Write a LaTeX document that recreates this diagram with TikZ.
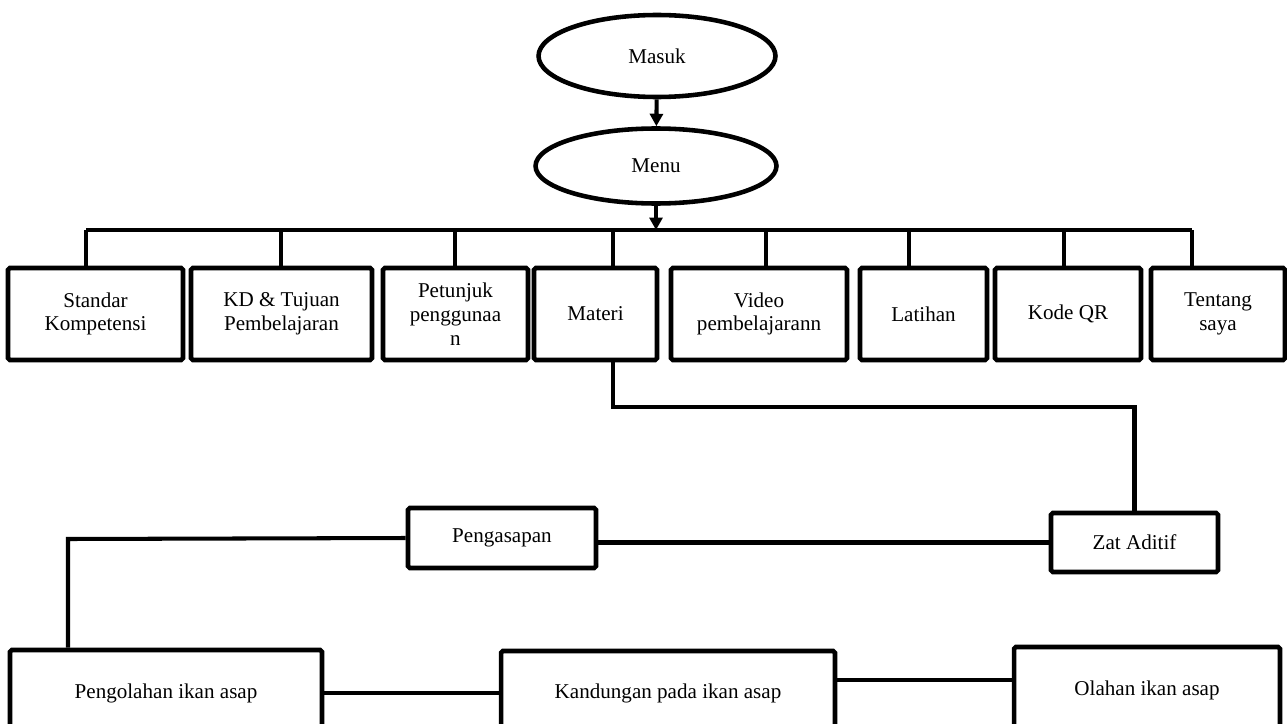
\documentclass[tikz,border=0pt]{standalone}
\usepackage{fontspec}
\setmainfont{Liberation Serif}
\usetikzlibrary{shapes.geometric,arrows.meta}

\begin{document}
\begin{tikzpicture}[x=0.02cm,y=-0.02cm,
  >={Triangle[length=0.25cm,width=0.26cm]},
  font=\fontsize{12}{13.5}\selectfont,
  ln/.style={line width=2.3pt},
  ov/.style={draw,ellipse,line width=2.6pt,inner sep=0pt},
  box/.style={draw,line width=2.6pt,rounded corners=1pt,inner sep=0pt,align=center,minimum height=1.84cm}]
  \useasboundingbox (0,0) rectangle (1287,723);
  \clip (0,0) rectangle (1287,723);

  \node[ov,minimum width=4.74cm,minimum height=1.64cm] (masuk) at (657,56) {Masuk};
  \node[ov,minimum width=4.82cm,minimum height=1.5cm] (menu) at (656,166) {Menu};
  \draw[ln,->] (masuk) -- (menu);

  % menu row
  \node[box,minimum width=3.5cm] (sk) at (95.5,314) {Standar\\Kompetensi};
  \node[box,minimum width=3.62cm] (kd) at (281.5,314) {KD \& Tujuan\\Pembelajaran};
  \node[box,minimum width=2.9cm] (pp) at (455.5,314) {Petunjuk\\penggunaa\\n};
  \node[box,minimum width=2.46cm] (mat) at (595.5,314) {Materi};
  \node[box,minimum width=3.52cm] (vid) at (759,314) {Video\\pembelajarann};
  \node[box,minimum width=2.54cm] (lat) at (923.5,314) {Latihan};
  \node[box,minimum width=2.92cm] (qr) at (1068,314) {Kode QR};
  \node[box,minimum width=2.68cm] (ttg) at (1218,314) {Tentang\\saya};

  \coordinate (busL) at (86,230);
  \coordinate (busR) at (1192,230);
  \draw[ln] (busL) -- (busR);
  \draw[ln,->] (menu) -- (menu |- busL);
  \foreach \x/\n in {86/sk,281/kd,455/pp,613/mat,766/vid,909/lat,1064/qr,1192/ttg}{
    \coordinate (b\n) at (\x,230);
    \draw[ln] (b\n) -- (b\n |- \n.north);
  }

  % materi
  \node[box,minimum width=3.34cm,minimum height=1.18cm] (zat) at (1134.5,542.5) {Zat Aditif};
  \node[box,minimum width=3.76cm,minimum height=1.2cm] (psp) at (502,538) {Pengasapan};
  \node[box,minimum width=6.24cm,minimum height=1.72cm] (pio) at (166,693) {Pengolahan ikan asap};
  \node[box,minimum width=6.68cm,minimum height=1.68cm] (kpi) at (668,693) {Kandungan pada ikan asap};
  \node[box,minimum width=5.32cm,minimum height=1.72cm] (olh) at (1147,690) {Olahan ikan asap};

  \coordinate (m1) at (613,407);
  \draw[ln] (m1 |- mat.south) -- (m1) -| (zat.north);
  \draw[ln] (psp.east |- zat.west) -- (zat.west);
  \coordinate (p1) at (68,539);
  \draw[ln] (psp.west) -- (p1) -- (p1 |- pio.north);
  \draw[ln] (pio) -- (kpi);
  \draw[ln] ([yshift=0.26cm]kpi.east) -- ([yshift=0.26cm]kpi.east -| olh.west);
\end{tikzpicture}
\end{document}
